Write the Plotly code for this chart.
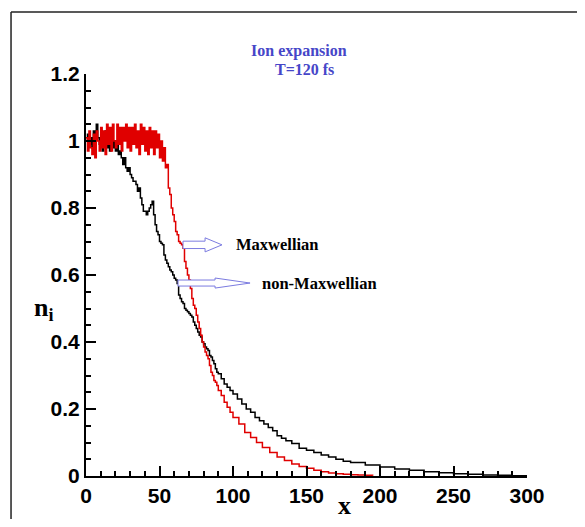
import plotly.graph_objects as go

# Maxwellian ion density (red)
x_max = list(range(0, 91)) + [92, 94, 96, 98, 100, 104, 108, 112, 116, 120, 125, 130, 135, 140,
                              145, 150, 155, 160, 165, 170, 175, 180, 185, 190, 195]
n_max = [1.01, 0.97, 1.03, 0.98, 0.96, 1.02, 0.95, 1.03, 1.00, 0.97,
         1.04, 0.98, 1.03, 0.96, 1.05, 0.99, 1.04, 0.97, 1.05, 1.00,
         0.98, 1.05, 0.99, 1.04, 0.97, 1.04, 1.00, 1.05, 0.98, 1.04,
         0.97, 1.04, 0.99, 1.05, 0.98, 1.03, 0.96, 1.05, 0.99, 1.04,
         0.97, 1.03, 0.96, 1.04, 0.98, 1.03, 0.96, 1.03, 0.98, 1.02,
         0.95, 1.00, 0.94, 0.98, 0.92, 0.93, 0.86, 0.84, 0.80, 0.78,
         0.76, 0.73, 0.72, 0.70, 0.695, 0.69, 0.68, 0.64, 0.62, 0.60,
         0.585, 0.56, 0.53, 0.51, 0.50, 0.48, 0.46, 0.44, 0.42, 0.40,
         0.385, 0.37, 0.36, 0.35, 0.33, 0.31, 0.30, 0.285, 0.28, 0.27,
         0.255, 0.24, 0.22, 0.205, 0.19, 0.175, 0.155, 0.13, 0.115, 0.10,
         0.085, 0.07, 0.057, 0.046, 0.036, 0.028, 0.023, 0.017, 0.013, 0.009,
         0.007, 0.005, 0.004, 0.003, 0.002, 0.001]

# non-Maxwellian ion density (black)
x_non = list(range(0, 91)) + [92, 94, 96, 98, 100, 103, 106, 109, 112, 115, 118, 121, 124, 127,
                              130, 133, 136, 140, 145, 150, 155, 160, 165, 170, 175, 180, 190,
                              200, 210, 220, 230, 240, 250, 260, 270, 280, 290, 300]
n_non = [1.00, 1.02, 0.99, 1.01, 0.98, 1.03, 1.00, 1.05, 1.01, 0.99,
         1.02, 0.97, 1.00, 1.03, 0.98, 1.01, 0.97, 1.02, 0.98, 1.00,
         0.97, 0.99, 0.96, 0.97, 0.95, 0.93, 0.95, 0.92, 0.91, 0.92,
         0.90, 0.89, 0.88, 0.88, 0.87, 0.85, 0.86, 0.83, 0.81, 0.79,
         0.79, 0.78, 0.79, 0.80, 0.81, 0.82, 0.78, 0.75, 0.73, 0.72,
         0.70, 0.695, 0.69, 0.66, 0.645, 0.635, 0.625, 0.615, 0.61, 0.60,
         0.59, 0.585, 0.575, 0.54, 0.53, 0.52, 0.515, 0.50, 0.495, 0.49,
         0.485, 0.48, 0.475, 0.46, 0.45, 0.44, 0.43, 0.42, 0.415, 0.40,
         0.395, 0.385, 0.38, 0.375, 0.36, 0.355, 0.345, 0.335, 0.32, 0.31,
         0.305, 0.29, 0.275, 0.265, 0.255, 0.245, 0.23, 0.215, 0.20, 0.19,
         0.175, 0.165, 0.155, 0.145, 0.135, 0.12, 0.113, 0.105, 0.097, 0.083,
         0.077, 0.070, 0.063, 0.057, 0.050, 0.044, 0.040, 0.033, 0.027, 0.021,
         0.017, 0.013, 0.010, 0.007, 0.005, 0.003, 0.002, 0.001, 0.001]

x_ticks = [0, 50, 100, 150, 200, 250, 300]
y_ticks = [0, 0.2, 0.4, 0.6, 0.8, 1, 1.2]
y_ticktext = ["0", "0.2", "0.4", "0.6", "0.8", "1", "1.2"]

SANS = "Liberation Sans, Arial, sans-serif"
SERIF = "Liberation Serif, Times New Roman, serif"


def hollow_arrow(x0, xh, x1, y, hs, hh):
    # outline of a block arrow pointing right, in data units
    return (f"M {x0},{y - hs} L {xh},{y - hs} L {xh},{y - hh} L {x1},{y} "
            f"L {xh},{y + hh} L {xh},{y + hs} L {x0},{y + hs} Z")


fig = go.Figure()
fig.add_trace(go.Scatter(x=x_non, y=n_non, mode="lines", line=dict(color="black", width=1.5, shape="hv"),
                         name="non-Maxwellian"))
fig.add_trace(go.Scatter(x=x_max, y=n_max, mode="lines", line=dict(color="#e00000", width=1.5, shape="hv"),
                         name="Maxwellian"))

arrow_line = dict(color="#7b7be0", width=1)
fig.add_shape(type="path", xref="x", yref="y", path=hollow_arrow(66, 81, 92.5, 0.69, 0.011, 0.021),
              line=arrow_line, fillcolor="white")
fig.add_shape(type="path", xref="x", yref="y", path=hollow_arrow(62.6, 87.8, 111.6, 0.576, 0.009, 0.015),
              line=arrow_line, fillcolor="white")

# outer frame
frame = dict(color="#222222", width=1.5)
fig.add_shape(type="line", xref="paper", yref="paper", x0=-0.170, y0=1.154, x1=1.2, y1=1.154, line=frame)
fig.add_shape(type="line", xref="paper", yref="paper", x0=-0.170, y0=1.154, x1=-0.170, y1=-0.2, line=frame)

ann_font = dict(family=SERIF, size=16.5, color="black", weight="bold")
fig.add_annotation(x=101, y=0.69, xref="x", yref="y", text="Maxwellian", showarrow=False,
                   xanchor="left", font=ann_font)
fig.add_annotation(x=118.4, y=0.576, xref="x", yref="y", text="non-Maxwellian", showarrow=False,
                   xanchor="left", font=ann_font)

title_font = dict(family=SERIF, size=16, color="#4646c8", weight="bold")
fig.add_annotation(x=0.483, y=1.085, xref="paper", yref="paper", text="Ion expansion", showarrow=False,
                   font=title_font)
fig.add_annotation(x=0.495, y=1.0375, xref="paper", yref="paper", text="T=120 fs", showarrow=False,
                   font=title_font)

fig.add_annotation(x=-0.122, y=0.415, xref="paper", yref="paper", xanchor="left",
                   text="n<sub>i</sub>", showarrow=False,
                   font=dict(family=SERIF, size=26, color="black", weight="bold"))
fig.add_annotation(x=0.587, y=-0.074, xref="paper", yref="paper", text="x", showarrow=False,
                   yanchor="middle", font=dict(family=SERIF, size=26, color="black", weight="bold"))

axis_common = dict(showgrid=False, zeroline=False, showline=True, linecolor="black", linewidth=2,
                   ticks="inside", ticklen=10, tickwidth=2, tickcolor="black",
                   tickfont=dict(family=SANS, size=21, color="black", weight="bold"))
fig.update_xaxes(range=[0, 300], tickvals=x_ticks,
                 minor=dict(dtick=10, ticks="inside", ticklen=5, tickwidth=1.5, tickcolor="black"),
                 **axis_common)
fig.update_yaxes(range=[0, 1.2], tickvals=y_ticks, ticktext=y_ticktext,
                 minor=dict(dtick=0.05, ticks="inside", ticklen=5, tickwidth=1.5, tickcolor="black"),
                 **axis_common)

# the page adds an 8px body margin, so the figure is 16px smaller than the window
fig.update_layout(width=569, height=511, margin=dict(l=78, r=50, t=66, b=43),
                  plot_bgcolor="white", paper_bgcolor="white", showlegend=False)

fig.write_html("out.html")
